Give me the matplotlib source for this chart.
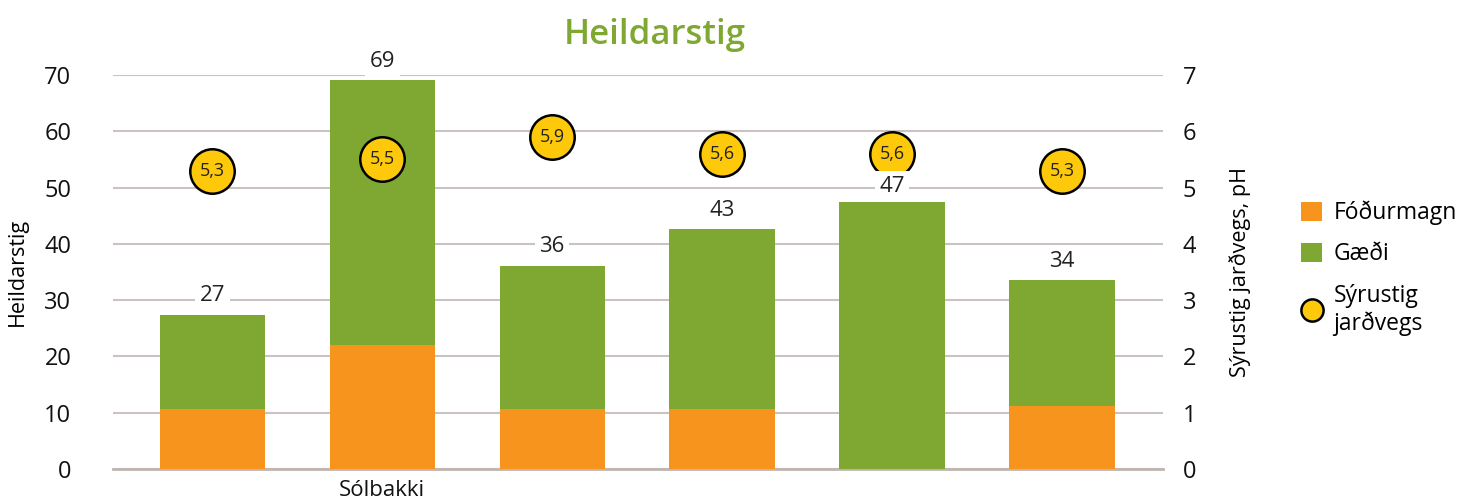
import matplotlib.pyplot as plt
import numpy as np

plt.rcParams['font.family'] = ['Open Sans', 'DejaVu Sans']

categories = ['', 'Sólbakki', '', '', '', '']
fodurmagn = [10.7, 22.0, 10.7, 10.7, 0.0, 11.2]
gaedi = [16.7, 47.1, 25.4, 31.9, 47.4, 22.4]
totals = [27, 69, 36, 43, 47, 34]
ph = [5.3, 5.5, 5.9, 5.6, 5.6, 5.3]

orange = '#f7941d'
green = '#7ea832'
yellow = '#ffc90b'
gridc = '#cac3bf'

fig, ax = plt.subplots(figsize=(14.79, 5.0), dpi=100)
fig.subplots_adjust(left=0.0764, right=0.7864, bottom=0.062, top=0.85)
ax2 = ax.twinx()

x = np.arange(len(categories))
w = 0.62
ax.bar(x, fodurmagn, w, color=orange, label='Fóðurmagn', zorder=3)
ax.bar(x, gaedi, w, bottom=fodurmagn, color=green, label='Gæði', zorder=3)

# total labels go on the twin axes so the marker circles don't hide them
stack = np.array(fodurmagn) + np.array(gaedi)
for xi, top, t, p in zip(x, stack, totals, ph):
    # squeeze the label down when the pH circle sits right above the bar
    gap = p * 10 - top
    dy = 4 if 0 < gap < 12 else 6
    ax2.annotate(str(t), (xi, top), xycoords=ax.transData, xytext=(0, dy),
                 textcoords='offset points', ha='center', va='bottom', fontsize=16,
                 color='#222222', zorder=7,
                 bbox=dict(boxstyle='square,pad=0.2', fc='white', ec='none'))

ax2.plot(x, ph, linestyle='none', marker='o', markersize=32, markerfacecolor=yellow,
         markeredgecolor='black', markeredgewidth=1.8, label='Sýrustig\njarðvegs', zorder=5)
for xi, p in zip(x, ph):
    ax2.text(xi, p, ('%.1f' % p).replace('.', ','), ha='center', va='center',
             fontsize=13, color='#222222', zorder=6)

ax.set_xlim(-0.585, 5.595)
ax.set_ylim(0, 70)
ax2.set_ylim(0, 7)
ax.set_yticks(range(0, 71, 10))
ax2.set_yticks(range(0, 8))
ax.grid(axis='y', color=gridc, linewidth=1.5, zorder=0)
ax.set_axisbelow(True)
ax.set_xticks(x)
ax.set_xticklabels(categories)
for a in (ax, ax2):
    for s in a.spines.values():
        s.set_visible(False)
    a.tick_params(length=0, labelsize=17, colors='#111111')
ax.spines['bottom'].set_visible(True)
ax.spines['bottom'].set_color('#bfb6b1')
ax.spines['bottom'].set_linewidth(2)
ax.tick_params(axis='x', pad=8, labelsize=16)
ax.tick_params(axis='y', pad=30)
ax2.tick_params(axis='y', pad=14)

ax.set_ylabel('Heildarstig', fontsize=15.5, labelpad=12)
ax2.set_ylabel('Sýrustig jarðvegs, pH', fontsize=15.5, labelpad=24)
fig.suptitle('Heildarstig', x=0.443, y=0.965, fontsize=25, color=green, fontweight=600)

h1, l1 = ax.get_legend_handles_labels()
h2, l2 = ax2.get_legend_handles_labels()
leg = fig.legend(h1 + h2, l1 + l2, loc='upper left', bbox_to_anchor=(0.866, 0.64),
                 frameon=False, fontsize=16.5, handlelength=0.9, handleheight=0.9,
                 handletextpad=0.5, labelspacing=0.75, markerscale=0.5)

fig.savefig('out.png')
